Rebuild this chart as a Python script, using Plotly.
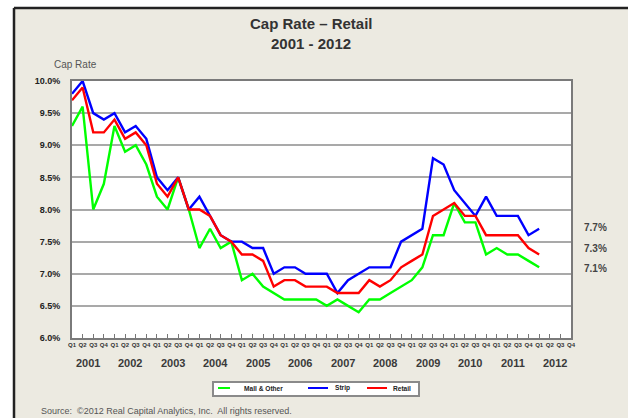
import plotly.graph_objects as go

# ---------------- data ----------------
YEARS = [str(y) for y in range(2001, 2013)]
QUARTERS = ["Q1", "Q2", "Q3", "Q4"]
PERIODS = [f"{y} {q}" for y in YEARS for q in QUARTERS]
TICK_LABELS = [q for y in YEARS for q in QUARTERS]

SERIES_NAMES = ["Mall & Other", "Strip", "Retail"]

MALL_OTHER = [9.3, 9.6, 8.0, 8.4,
              9.3, 8.9, 9.0, 8.7,
              8.2, 8.0, 8.5, 8.0,
              7.4, 7.7, 7.4, 7.5,
              6.9, 7.0, 6.8, 6.7,
              6.6, 6.6, 6.6, 6.6,
              6.5, 6.6, 6.5, 6.4,
              6.6, 6.6, 6.7, 6.8,
              6.9, 7.1, 7.6, 7.6,
              8.1, 7.8, 7.8, 7.3,
              7.4, 7.3, 7.3, 7.2,
              7.1]
STRIP = [9.8, 10.0, 9.5, 9.4,
         9.5, 9.2, 9.3, 9.1,
         8.5, 8.3, 8.5, 8.0,
         8.2, 7.9, 7.6, 7.5,
         7.5, 7.4, 7.4, 7.0,
         7.1, 7.1, 7.0, 7.0,
         7.0, 6.7, 6.9, 7.0,
         7.1, 7.1, 7.1, 7.5,
         7.6, 7.7, 8.8, 8.7,
         8.3, 8.1, 7.9, 8.2,
         7.9, 7.9, 7.9, 7.6,
         7.7]
RETAIL = [9.7, 9.9, 9.2, 9.2,
          9.4, 9.1, 9.2, 9.0,
          8.4, 8.2, 8.5, 8.0,
          8.0, 7.9, 7.6, 7.5,
          7.3, 7.3, 7.2, 6.8,
          6.9, 6.9, 6.8, 6.8,
          6.8, 6.7, 6.7, 6.7,
          6.9, 6.8, 6.9, 7.1,
          7.2, 7.3, 7.9, 8.0,
          8.1, 7.9, 7.9, 7.6,
          7.6, 7.6, 7.6, 7.4,
          7.3]
Y_TICKS = [6.0, 6.5, 7.0, 7.5, 8.0, 8.5, 9.0, 9.5, 10.0]

SERIES = [MALL_OTHER, STRIP, RETAIL]
COLORS = ["#00FF00", "#0000FF", "#FF0000"]

# ---------------- layout geometry ----------------
W, H = 628, 418
L, R, T, B = 72, 571, 81, 338  # plot area in pixels
FONT = "Liberation Sans, Arial, sans-serif"
BEIGE = "#ECEAE1"


def px(x):
    return (x - L) / (R - L)


def py(y):
    return (B - y) / (B - T)


fig = go.Figure()
for name, vals, col in zip(SERIES_NAMES, SERIES, COLORS):
    fig.add_trace(go.Scatter(
        x=PERIODS[:len(vals)], y=vals, name=name, mode="lines",
        line=dict(color=col, width=2.4), showlegend=False,
    ))

fig.update_layout(
    width=W, height=H,
    margin=dict(l=L, r=W - R, t=T, b=H - B),
    paper_bgcolor=BEIGE,
    plot_bgcolor="white",
    font=dict(family=FONT, color="#333333"),
    showlegend=False,
)

fig.update_xaxes(
    type="category",
    categoryorder="array", categoryarray=PERIODS,
    range=[0, len(PERIODS) - 1],
    tickvals=PERIODS, ticktext=TICK_LABELS, tickangle=0,
    tickfont=dict(size=6, color="#333333", weight="bold", family=FONT),
    ticks="inside", ticklen=4, tickwidth=1, tickcolor="#777777",
    showgrid=False,
    showline=True, linecolor="#7A7A7A", linewidth=2, mirror=True,
    fixedrange=True,
)
fig.update_yaxes(
    range=[6, 10],
    tickvals=Y_TICKS, ticktext=[f"{v:.1f}%" for v in Y_TICKS],
    tickfont=dict(size=9, color="#222222", weight="bold", family=FONT),
    ticks="", ticklabelstandoff=8,
    showgrid=True, gridcolor="#A9A9A9", gridwidth=2,
    zeroline=False,
    showline=True, linecolor="#7A7A7A", linewidth=2, mirror=True,
    fixedrange=True,
)

# title (two lines)
for text, ypix in [("Cap Rate – Retail", 24), ("2001 - 2012", 43)]:
    fig.add_annotation(
        x=px(311), y=py(ypix), xref="paper", yref="paper", text=text,
        showarrow=False, xanchor="center", yanchor="middle",
        font=dict(size=15, color="#333333", weight="bold", family=FONT),
    )

# year labels under the quarter ticks
for i, yr in enumerate(YEARS):
    fig.add_annotation(
        x=i * 4 + 1.5, y=py(363), xref="x", yref="paper",
        text=yr, showarrow=False, xanchor="center", yanchor="middle",
        font=dict(size=11, color="#3A3A3A", weight="bold", family=FONT),
    )

# axis label
fig.add_annotation(
    x=px(75), y=py(64), xref="paper", yref="paper", text="Cap Rate",
    showarrow=False, xanchor="center", yanchor="middle",
    font=dict(size=10, color="#555555", family=FONT),
)

# end-value labels on the right
for vals, ypix in zip([STRIP, RETAIL, MALL_OTHER], [227, 248, 268]):
    fig.add_annotation(
        x=px(595), y=py(ypix), xref="paper", yref="paper",
        text=f"{vals[-1]:.1f}%", showarrow=False,
        xanchor="center", yanchor="middle",
        font=dict(size=10, color="#444444", weight="bold", family=FONT),
    )

# legend box (drawn by hand to match the original's compact box)
fig.add_shape(type="rect", xref="paper", yref="paper",
              x0=px(213), x1=px(419), y0=py(396), y1=py(382),
              fillcolor="white", line=dict(color="#8A8A8A", width=2),
              layer="above")
LEG_LINE_X = [(218, 230), (308, 328), (367, 387)]
LEG_TEXT_X = [242, 333, 391]
for name, col, (x0, x1), tx in zip(SERIES_NAMES, COLORS, LEG_LINE_X, LEG_TEXT_X):
    fig.add_shape(type="line", xref="paper", yref="paper",
                  x0=px(x0), x1=px(x1), y0=py(388), y1=py(388),
                  line=dict(color=col, width=2), layer="above")
    fig.add_annotation(
        x=px(tx), y=py(388), xref="paper", yref="paper", text=name,
        showarrow=False, xanchor="left", yanchor="middle",
        font=dict(size=6.6, color="#222222", weight="bold", family=FONT),
    )

# source note
fig.add_annotation(
    x=px(39), y=py(411), xref="paper", yref="paper",
    text="Source:  ©2012 Real Capital Analytics, Inc.  All rights reserved.",
    showarrow=False, xanchor="left", yanchor="middle",
    font=dict(size=9, color="#555555", family=FONT),
)

# outer white margin and dark frame edges (top / left)
fig.add_shape(type="rect", xref="paper", yref="paper",
              x0=px(-5), x1=px(13), y0=py(H + 5), y1=py(-5),
              fillcolor="white", line=dict(width=0), layer="above")
fig.add_shape(type="rect", xref="paper", yref="paper",
              x0=px(-5), x1=px(W + 5), y0=py(7), y1=py(-5),
              fillcolor="white", line=dict(width=0), layer="above")
fig.add_shape(type="line", xref="paper", yref="paper",
              x0=px(14), x1=px(W + 5), y0=py(8), y1=py(8),
              line=dict(color="#222222", width=2.5), layer="above")
fig.add_shape(type="line", xref="paper", yref="paper",
              x0=px(14), x1=px(14), y0=py(8), y1=py(H + 5),
              line=dict(color="#222222", width=2.5), layer="above")

fig.write_html(
    "out.html",
    config={"displayModeBar": False},
    post_script="document.body.style.margin='0';document.body.style.overflow='hidden';",
)
